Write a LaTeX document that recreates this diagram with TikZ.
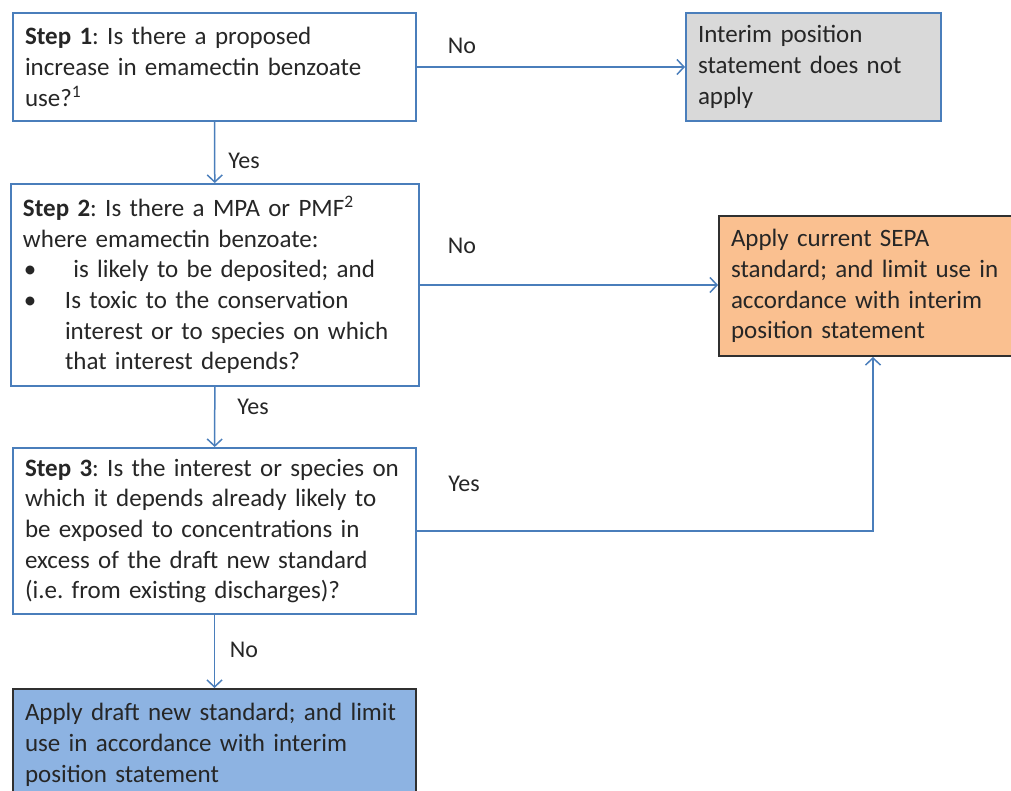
\documentclass[tikz,border=0pt]{standalone}
\usepackage{fontspec}
\setmainfont{Carlito}
\usetikzlibrary{arrows.meta}
\definecolor{bblue}{HTML}{4A7EBB}
\definecolor{txt}{HTML}{262626}
\definecolor{greyfill}{HTML}{D9D9D9}
\definecolor{orangefill}{HTML}{FAC090}
\definecolor{bluefill}{HTML}{8DB3E2}
\definecolor{darkedge}{HTML}{303030}
\tikzset{
  box/.style={draw=bblue, line width=2pt, anchor=north west, align=left,
    inner xsep=12pt, inner ysep=0pt, text=txt,
    font=\fontsize{25}{30.7}\selectfont\frenchspacing},
  conn/.style={draw=bblue, line width=1.5pt, -{Straight Barb[length=7pt,width=15pt,line width=1.5pt]}},
  lbl/.style={text=txt, font=\fontsize{24}{28}\selectfont}
}
\begin{document}
\begin{tikzpicture}[x=1pt,y=-1pt]
\useasboundingbox (0,0) rectangle (1011,791);
\node[box, text width=379pt, minimum height=108pt] (step1) at (12,12)
  {\textbf{Step 1}: Is there a proposed\\increase in emamectin benzoate\\use?\textsuperscript{1}};
\node[box, fill=greyfill, text width=231pt, minimum height=108pt] (interim) at (685,12)
  {Interim position\\statement does not\\apply};
\node[box, text width=384pt, minimum height=202pt] (step2) at (10,183)
  {\textbf{Step 2}: Is there a MPA or PMF\textsuperscript{2}\\where emamectin benzoate:\\
   \hspace*{1pt}\makebox[41pt][l]{\textbullet}\ is likely to be deposited; and\\
   \hspace*{1pt}\makebox[41pt][l]{\textbullet}Is toxic to the conservation\\
   \hspace*{42pt}interest or to species on which\\
   \hspace*{42pt}that interest depends?};
\node[box, draw=darkedge, fill=orangefill, text width=284pt, minimum height=140pt] (sepa) at (718,215)
  {Apply current SEPA\\standard; and limit use in\\accordance with interim\\position statement};
\node[box, text width=379pt, minimum height=166pt] (step3) at (12,447)
  {\textbf{Step 3}: Is the interest or species on\\which it depends already likely to\\be exposed to concentrations in\\excess of the draft new standard\\(i.e. from existing discharges)?};
\node[box, draw=darkedge, fill=bluefill, text width=379pt, minimum height=112pt] (draft) at (12,688)
  {Apply draft new standard; and limit\\use in accordance with interim\\position statement};

\draw[conn] (step1) -- (interim);
\draw[conn] (step1) -- (step2);
\draw[conn] (step2.east) -- (step2.east -| sepa.west);
\draw[conn] (step2) -- (step3);
\draw[conn] (step3.east) -| (sepa.south);
\draw[conn] (step3) -- (draft);

\node[lbl] (l1) at (462,46) {No};
\node[lbl] (l2) at (244,161) {Yes};
\node[lbl] (l3) at (462,246) {No};
\node[lbl] (l4) at (253,407) {Yes};
\node[lbl] (l5) at (464,484) {Yes};
\node[lbl] (l6) at (244,650) {No};
\end{tikzpicture}
\end{document}
